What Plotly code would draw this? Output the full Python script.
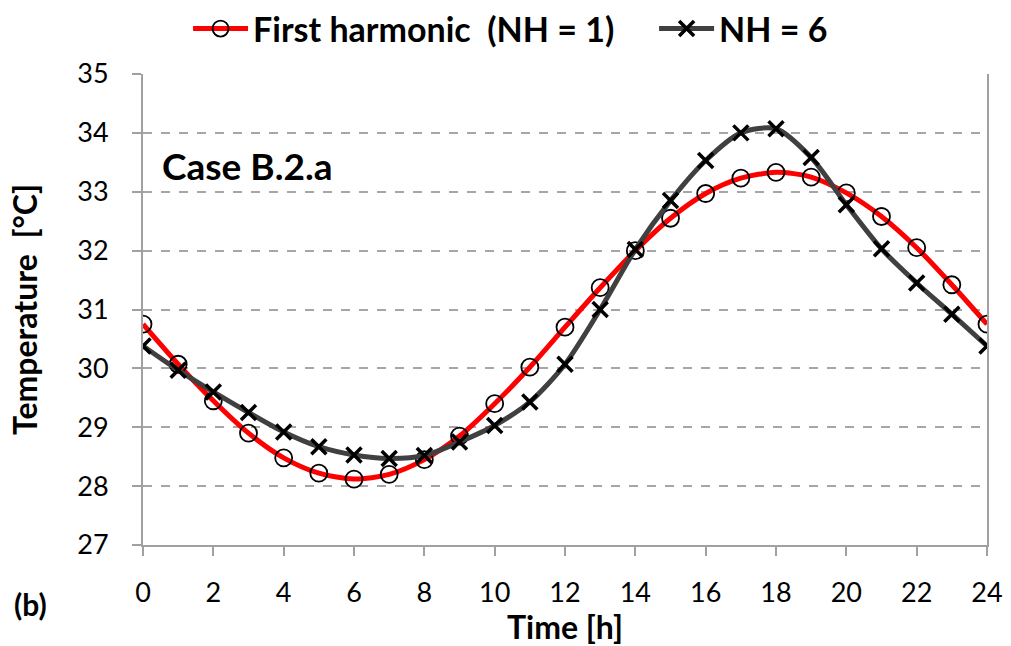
import plotly.graph_objects as go

hours = list(range(25))
nh1 = [30.75, 30.07, 29.45, 28.90, 28.48, 28.22, 28.12, 28.20, 28.45, 28.85,
       29.40, 30.02, 30.70, 31.37, 32.00, 32.55, 32.97, 33.23, 33.33, 33.25,
       32.98, 32.58, 32.05, 31.42, 30.75]
nh6 = [30.38, 29.97, 29.60, 29.25, 28.92, 28.67, 28.53, 28.47, 28.52, 28.75,
       29.03, 29.43, 30.07, 31.00, 32.02, 32.85, 33.53, 34.00, 34.07, 33.58,
       32.78, 32.03, 31.45, 30.92, 30.38]
x_ticks = list(range(0, 25, 2))
y_ticks = list(range(27, 36))

FONT = "Lato"

fig = go.Figure()
fig.add_trace(go.Scatter(
    x=hours, y=nh1, mode="lines+markers",
    name="<b>First harmonic  (NH = 1)</b>&nbsp;&nbsp;&nbsp;&nbsp;",
    line=dict(color="#ff0000", width=5, shape="spline", smoothing=0.8),
    marker=dict(symbol="circle-open", size=17, color="black", line=dict(width=1.8, color="black")),
))
fig.add_trace(go.Scatter(
    x=hours, y=nh6, mode="lines+markers", name="<b>NH = 6</b>",
    line=dict(color="#404040", width=5, shape="spline", smoothing=0.8),
    marker=dict(symbol="x-thin", size=15, color="black", line=dict(width=3.5, color="black")),
))

fig.update_layout(
    width=1011, height=646,
    margin=dict(l=143, r=24, t=74, b=101, autoexpand=False),
    paper_bgcolor="white", plot_bgcolor="white",
    font=dict(family=FONT, size=26, color="black"),
    legend=dict(orientation="h", xref="container", x=0.505, xanchor="center",
                yref="container", y=1.0, yanchor="top",
                font=dict(size=34, family=FONT),
                itemwidth=55, traceorder="normal", bgcolor="rgba(0,0,0,0)"),
    showlegend=True,
)

fig.update_xaxes(
    range=[0, 24], tickvals=x_ticks, ticktext=[str(v) for v in x_ticks],
    showgrid=False, zeroline=False,
    showline=True, linecolor="#a0a0a0", linewidth=2,
    ticks="outside", ticklen=9, tickcolor="#a0a0a0", tickwidth=1.5,
    tickfont=dict(size=27, family=FONT), ticklabelstandoff=14,
    title=dict(text="<b>Time [h]</b>", font=dict(size=32, family=FONT), standoff=6),
)
fig.update_yaxes(
    range=[27, 35], tickvals=y_ticks,
    showgrid=True, gridcolor="#a6a6a6", griddash="dash", gridwidth=1.5,
    zeroline=False,
    showline=True, linecolor="#a0a0a0", linewidth=2, mirror=True,
    ticks="outside", ticklen=9, tickcolor="#a0a0a0", tickwidth=1.5,
    tickfont=dict(size=27, family=FONT), ticklabelstandoff=18,
    title=dict(text="<b>Temperature  [°C]</b>", font=dict(size=32, family=FONT), standoff=30),
)

fig.add_annotation(text="<b>Case B.2.a</b>", x=0.02, y=33.45, xref="paper", yref="y",
                   xanchor="left", yanchor="middle", showarrow=False,
                   font=dict(size=37, family=FONT))
fig.add_annotation(text="<b>(b)</b>", x=-0.155, y=-0.126, xref="paper", yref="paper",
                   xanchor="left", yanchor="middle", showarrow=False,
                   font=dict(size=30, family=FONT))

fig.write_html("out.html")
